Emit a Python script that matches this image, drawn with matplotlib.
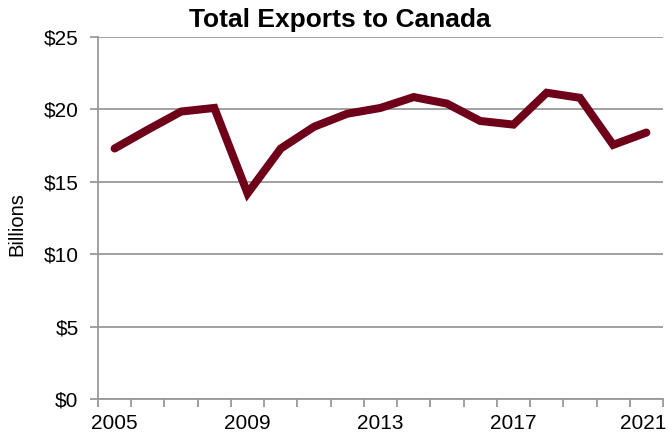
import numpy as np
from matplotlib import pyplot as plt
from matplotlib.ticker import FuncFormatter
from matplotlib.transforms import ScaledTranslation

years = list(range(2005, 2022))
exports = [17.3, 18.6, 19.85, 20.1, 14.2, 17.3, 18.8, 19.7, 20.1,
           20.85, 20.4, 19.2, 18.95, 21.15, 20.8, 17.55, 18.4]
label_years = [2005, 2009, 2013, 2017, 2021]

plt.rcParams['font.family'] = ['Liberation Sans', 'DejaVu Sans']

fig = plt.figure(figsize=(6.69, 4.4), dpi=100)
ax = fig.add_axes([0.1465, 0.093, 0.8445, 0.823])

x = np.arange(len(years))
ax.plot(x, exports, color='#6e0019', linewidth=5.8, solid_capstyle='round',
        solid_joinstyle='miter', zorder=3)

ax.set_xlim(-0.5, len(years) - 0.5)
ax.set_ylim(0, 25)
ax.set_yticks(np.arange(0, 26, 5))
ax.yaxis.set_major_formatter(FuncFormatter(lambda v, pos: '${:d}'.format(int(v))))
ax.grid(axis='y', color='#999999', linewidth=1.3, zorder=1)

# category axis: ticks on the boundaries, labels every fourth year
ax.set_xticks(np.arange(-0.5, len(years)), minor=False)
ax.set_xticklabels([])
ax.set_xticks([years.index(y) for y in label_years], minor=True)
ax.set_xticklabels([str(y) for y in label_years], minor=True)
ax.tick_params(axis='x', which='major', length=5.5, width=1.3, color='#999999', direction='out')
ax.tick_params(axis='x', which='minor', length=0, pad=11, labelsize=15)
ax.tick_params(axis='y', length=6, width=1.3, color='#999999', labelsize=15, pad=8)

# nudge the last year label so it stays inside the figure
last = ax.get_xticklabels(minor=True)[-1]
last.set_transform(last.get_transform() + ScaledTranslation(-0.03, 0, fig.dpi_scale_trans))

for side in ('top', 'right'):
    ax.spines[side].set_visible(False)
for side in ('left', 'bottom'):
    ax.spines[side].set_color('#999999')
    ax.spines[side].set_linewidth(1.3)

fig.text(0.025, 0.49, 'Billions', fontsize=14.5, rotation=90, ha='center', va='center')
fig.text(0.508, 0.9386, 'Total Exports to Canada', fontsize=19, fontweight='bold',
         ha='center', va='baseline')

fig.savefig('out.png', dpi=100)
